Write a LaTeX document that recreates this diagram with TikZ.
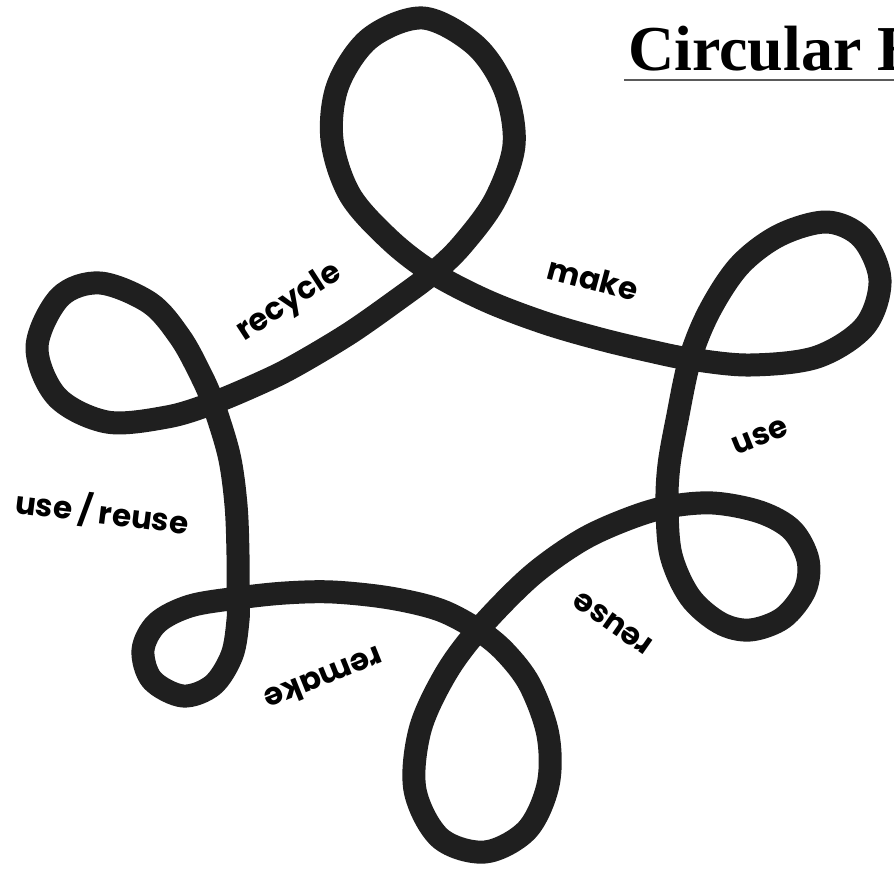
\documentclass[tikz,border=0pt]{standalone}
\usepackage{fontspec}
\usepackage{tikz}
\usetikzlibrary{calc}
\newfontfamily\wordfont{Poppins}
\newfontfamily\headfont{Liberation Serif}
\definecolor{inkdark}{RGB}{31,31,31}
\definecolor{rulegrey}{RGB}{90,90,90}

\begin{document}
\begin{tikzpicture}[x=1pt, y=-1pt,
    loopline/.style={draw=inkdark, line width=23pt, line join=round},
    word/.style={font=\wordfont\bfseries\fontsize{31}{36}\selectfont, text=black, inner sep=0pt},
    heading/.style={font=\headfont\bfseries\fontsize{64}{70}\selectfont, text=black, anchor=base west, inner sep=0pt}
]
    \useasboundingbox (0,0) rectangle (894,876);
    \clip (0,0) rectangle (894,876);

    % the looping cycle
    \draw[loopline] plot[smooth cycle, tension=0.55] coordinates {
        (433,273) (487,301) (545,323) (600,339) (650,351) (690,359)
        (750,365) (817,357) (865,326) (880,280) (862,238) (827,222) (780,235) (740,265) (710,310) (690,359)
        (677,420) (669,465) (667,505)
        (671,555) (690,597) (720,623) (750,630) (783,618) (805,590) (808,560) (792,530) (760,512) (713,503) (667,507)
        (625,520) (580,541) (530,577) (478,630)
        (445,675) (420,730) (415,790) (440,838) (485,852) (527,830) (548,785) (548,735) (530,685) (505,652) (478,630)
        (440,610) (390,598) (333,592) (285,593) (238,598)
        (190,606) (157,623) (143,650) (152,680) (183,696) (213,685) (232,655) (238,620) (238,598)
        (238,555) (236,505) (229,455) (213,403)
        (200,373) (180,337) (150,303) (100,283) (60,297) (37,347) (57,397) (107,422) (167,417) (213,403)
        (267,380) (300,363) (350,333) (397,300) (433,273)
        (462,245) (495,200) (514,145) (505,90) (475,45) (423,18) (370,38) (338,85) (332,140) (350,195) (390,240)
    };

    % stage labels
    \node[word, rotate=33] (recycle) at (290,303) {recycle};
    \node[word, rotate=-15] (make) at (593,279) {make};
    \node[word, rotate=22] (use) at (760,437) {use};
    \node[word, rotate=-7] (usereuse) at (102,512) {use / reuse};
    \node[word, rotate=145] (reuse) at (613,623) {reuse};
    \node[word, rotate=-158] (remake) at (324,679) {remake};

    % title, cut at the right edge
    \node[heading] (title) at (628,70) {Circular Economy};
    \draw[rulegrey, line width=2pt] ($(title.base west)+(-4,10)$) -- ++(300,0);
\end{tikzpicture}
\end{document}
